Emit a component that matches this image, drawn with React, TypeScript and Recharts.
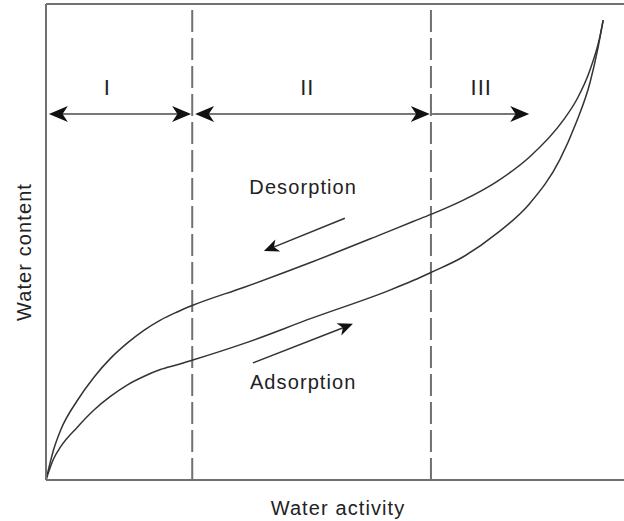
import { LineChart, Line, XAxis, YAxis, ReferenceLine, ReferenceDot } from "recharts";

// water activity (0..1) vs water content (relative, 0..1)
const desorption = [
   { x: 0, y: 0 },
   { x: 0.013, y: 0.063 },
   { x: 0.0254, y: 0.105 },
   { x: 0.0542, y: 0.167 },
   { x: 0.083, y: 0.216 },
   { x: 0.112, y: 0.256 },
   { x: 0.141, y: 0.288 },
   { x: 0.17, y: 0.315 },
   { x: 0.198, y: 0.336 },
   { x: 0.227, y: 0.353 },
   { x: 0.254, y: 0.367 },
   { x: 0.343, y: 0.405 },
   { x: 0.46, y: 0.458 },
   { x: 0.578, y: 0.515 },
   { x: 0.635, y: 0.543 },
   { x: 0.666, y: 0.558 },
   { x: 0.722, y: 0.588 },
   { x: 0.78, y: 0.627 },
   { x: 0.837, y: 0.679 },
   { x: 0.895, y: 0.756 },
   { x: 0.919, y: 0.801 },
   { x: 0.941, y: 0.861 },
   { x: 0.958, y: 0.93 },
   { x: 0.964, y: 0.966 },
];

const adsorption = [
   { x: 0, y: 0 },
   { x: 0.013, y: 0.044 },
   { x: 0.0254, y: 0.07 },
   { x: 0.0542, y: 0.111 },
   { x: 0.083, y: 0.147 },
   { x: 0.112, y: 0.176 },
   { x: 0.141, y: 0.2 },
   { x: 0.17, y: 0.218 },
   { x: 0.198, y: 0.232 },
   { x: 0.227, y: 0.242 },
   { x: 0.254, y: 0.252 },
   { x: 0.343, y: 0.287 },
   { x: 0.46, y: 0.34 },
   { x: 0.595, y: 0.399 },
   { x: 0.635, y: 0.419 },
   { x: 0.666, y: 0.436 },
   { x: 0.722, y: 0.469 },
   { x: 0.78, y: 0.518 },
   { x: 0.837, y: 0.581 },
   { x: 0.889, y: 0.673 },
   { x: 0.917, y: 0.75 },
   { x: 0.941, y: 0.834 },
   { x: 0.955, y: 0.908 },
   { x: 0.964, y: 0.966 },
];

// boundaries between the zones
const zoneBounds = [0.253, 0.666];

// zone arrows and labels
const zoneArrows = [
   { from: { x: 0.005, y: 0.769 }, to: { x: 0.251, y: 0.769 }, both: true },
   { from: { x: 0.258, y: 0.769 }, to: { x: 0.664, y: 0.769 }, both: true },
   { from: { x: 0.668, y: 0.769 }, to: { x: 0.836, y: 0.769 }, both: false },
];
const zoneLabels = [
   { x: 0.106, y: 0.809, text: "I" },
   { x: 0.452, y: 0.809, text: "II" },
   { x: 0.753, y: 0.809, text: "III" },
];

const curveArrows = [
   { from: { x: 0.517, y: 0.55 }, to: { x: 0.377, y: 0.481 } },
   { from: { x: 0.358, y: 0.246 }, to: { x: 0.531, y: 0.328 } },
];
const curveLabels = [
   { x: 0.445, y: 0.601, text: "Desorption" },
   { x: 0.445, y: 0.191, text: "Adsorption" },
];

const FONT = "'Liberation Sans', Arial, sans-serif";
const GRID = "#707070";
const INK = "#333";

function head(tx: number, ty: number, ux: number, uy: number, len: number, half: number) {
   const bx = tx - ux * len;
   const by = ty - uy * len;
   const nx = -uy;
   const ny = ux;
   const nx2 = tx - ux * len * 0.72;
   const ny2 = ty - uy * len * 0.72;
   return `${tx},${ty} ${bx + nx * half},${by + ny * half} ${nx2},${ny2} ${bx - nx * half},${by - ny * half}`;
}

function Arrow(props: any) {
   const { x1, y1, x2, y2, both, len, half, color, width } = props;
   const dx = x2 - x1;
   const dy = y2 - y1;
   const d = Math.sqrt(dx * dx + dy * dy) || 1;
   const ux = dx / d;
   const uy = dy / d;
   return (
      <g>
         <line
            x1={both ? x1 + ux * len * 0.7 : x1}
            y1={both ? y1 + uy * len * 0.7 : y1}
            x2={x2 - ux * len * 0.7}
            y2={y2 - uy * len * 0.7}
            stroke={color}
            strokeWidth={width}
         />
         <polygon points={head(x2, y2, ux, uy, len, half)} fill="#111" />
         {both && <polygon points={head(x1, y1, -ux, -uy, len, half)} fill="#111" />}
      </g>
   );
}

export default function App() {
   return (
      <div style={{ position: "absolute", left: 0, top: 0, background: "#fff" }}>
         <LineChart width={624} height={521} margin={{ top: 4, right: 0, bottom: 0, left: 0 }}>
            <XAxis
               type="number"
               dataKey="x"
               domain={[0, 1]}
               allowDataOverflow
               height={41}
               tick={false}
               tickLine={false}
               axisLine={{ stroke: GRID, strokeWidth: 2 }}
               label={{
                  content: (p: any) => (
                     <text
                        x={p.viewBox.x + p.viewBox.width / 2 + 3}
                        y={p.viewBox.y + 35}
                        textAnchor="middle"
                        fontFamily={FONT}
                        fontSize={20}
                        letterSpacing={1.1}
                        fill="#222"
                     >
                        Water activity
                     </text>
                  ),
               }}
            />
            <YAxis
               type="number"
               dataKey="y"
               domain={[0, 1]}
               allowDataOverflow
               width={46}
               tick={false}
               tickLine={false}
               axisLine={{ stroke: GRID, strokeWidth: 2 }}
               label={{
                  content: (p: any) => {
                     const cx = p.viewBox.x + 31;
                     const cy = p.viewBox.y + p.viewBox.height / 2 + 10;
                     return (
                        <text
                           x={cx}
                           y={cy}
                           transform={`rotate(-90, ${cx}, ${cy})`}
                           textAnchor="middle"
                           fontFamily={FONT}
                           fontSize={20}
                           letterSpacing={1.1}
                           fill="#222"
                        >
                           Water content
                        </text>
                     );
                  },
               }}
            />
            <ReferenceLine y={1} stroke={GRID} strokeWidth={2} />
            {zoneBounds.map((b) => (
               <ReferenceLine key={b} x={b} stroke={GRID} strokeWidth={2} strokeDasharray="22 6" />
            ))}
            {zoneArrows.map((a, i) => (
               <ReferenceLine
                  key={"za" + i}
                  segment={[a.from, a.to]}
                  shape={(p: any) => (
                     <Arrow {...p} both={a.both} len={19} half={8} color="#777" width={2} />
                  )}
               />
            ))}
            {curveArrows.map((a, i) => (
               <ReferenceLine
                  key={"ca" + i}
                  segment={[a.from, a.to]}
                  shape={(p: any) => <Arrow {...p} both={false} len={15} half={6.5} color={INK} width={1.5} />}
               />
            ))}
            {zoneLabels.map((l) => (
               <ReferenceDot
                  key={l.text}
                  x={l.x}
                  y={l.y}
                  r={1}
                  shape={(p: any) => (
                     <text x={p.cx} y={p.cy} textAnchor="middle" fontFamily={FONT} fontSize={22} letterSpacing={1} fill="#222">
                        {l.text}
                     </text>
                  )}
               />
            ))}
            {curveLabels.map((l) => (
               <ReferenceDot
                  key={l.text}
                  x={l.x}
                  y={l.y}
                  r={1}
                  shape={(p: any) => (
                     <text x={p.cx} y={p.cy} textAnchor="middle" fontFamily={FONT} fontSize={20} letterSpacing={1.1} fill="#222">
                        {l.text}
                     </text>
                  )}
               />
            ))}
            <Line
               data={desorption}
               dataKey="y"
               type="monotone"
               stroke={INK}
               strokeWidth={1.5}
               dot={false}
               isAnimationActive={false}
            />
            <Line
               data={adsorption}
               dataKey="y"
               type="monotone"
               stroke={INK}
               strokeWidth={1.5}
               dot={false}
               isAnimationActive={false}
            />
         </LineChart>
      </div>
   );
}
